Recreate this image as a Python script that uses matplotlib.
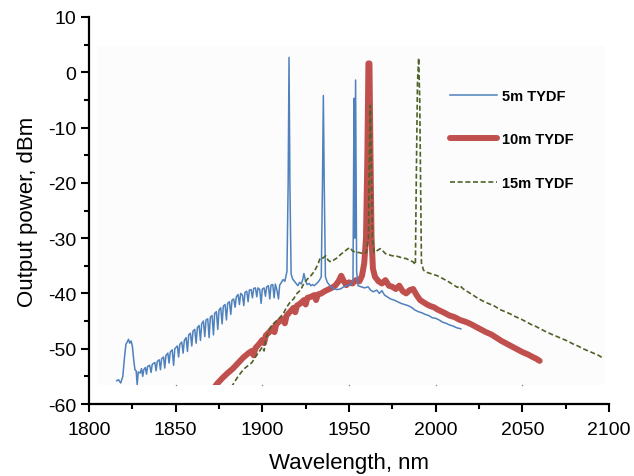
import matplotlib
matplotlib.use("Agg")
import matplotlib.pyplot as plt
from matplotlib.patches import Rectangle
from matplotlib.ticker import MultipleLocator

plt.rcParams['font.family'] = ['Liberation Sans', 'DejaVu Sans']
plt.rcParams['axes.unicode_minus'] = False

# ---- spectra: wavelength (nm) and output power (dBm) ----
wl_5m = [1816.0, 1817.0, 1818.3, 1819.5, 1820.5, 1821.3, 1822.0, 1822.8, 1823.5, 1824.3,
         1825.0, 1825.8, 1826.5, 1827.2, 1827.8, 1828.4, 1829.5, 1830.3, 1831.0, 1831.6,
         1832.5, 1833.2, 1833.8, 1835.0, 1835.8, 1836.5, 1838.0, 1838.7, 1839.4, 1840.5,
         1841.2, 1841.9, 1843.0, 1843.7, 1844.4, 1845.5, 1846.2, 1846.9, 1848.0, 1848.8,
         1849.5, 1851.0, 1851.7, 1852.4, 1853.5, 1854.3, 1855.0, 1856.0, 1856.8, 1857.5,
         1858.5, 1859.3, 1860.0, 1861.0, 1861.8, 1862.5, 1863.5, 1864.3, 1865.0, 1866.0,
         1866.8, 1867.5, 1868.5, 1869.3, 1870.0, 1871.0, 1871.8, 1872.5, 1873.5, 1874.3,
         1875.0, 1876.0, 1876.8, 1877.5, 1878.5, 1879.3, 1880.0, 1881.0, 1881.8, 1882.5,
         1883.5, 1884.3, 1885.0, 1886.0, 1886.8, 1887.5, 1888.5, 1889.3, 1890.0, 1891.0,
         1891.8, 1892.5, 1893.5, 1894.3, 1895.0, 1896.0, 1896.8, 1897.5, 1898.5, 1899.3,
         1900.0, 1901.0, 1901.8, 1902.5, 1903.5, 1904.3, 1905.0, 1906.0, 1906.8, 1907.5,
         1908.5, 1909.3, 1910.0, 1911.0, 1912.0, 1913.0, 1914.2, 1914.9, 1915.4, 1915.9,
         1916.6, 1917.5, 1918.5, 1919.5, 1920.5, 1921.5, 1922.5, 1923.3, 1924.0, 1924.8,
         1925.8, 1927.0, 1928.0, 1929.0, 1930.0, 1931.0, 1932.0, 1933.0, 1934.0, 1934.7,
         1935.2, 1935.7, 1936.4, 1937.5, 1939.0, 1941.0, 1943.0, 1945.0, 1947.0, 1949.0,
         1951.0, 1952.3, 1952.9, 1953.3, 1953.8, 1954.4, 1955.2, 1957.0, 1959.0, 1961.0,
         1962.5, 1964.0, 1966.0, 1967.5, 1969.0, 1970.5, 1972.0, 1974.0, 1976.0, 1978.0,
         1980.0, 1982.0, 1984.0, 1986.0, 1988.0, 1990.0, 1992.0, 1994.0, 1996.0, 1998.0,
         2000.0, 2002.0, 2004.0, 2006.0, 2008.0, 2010.0, 2012.0, 2014.5]
pw_5m = [-55.8, -55.6, -56.2, -55.0, -51.5, -49.2, -48.8, -48.3, -49.0, -48.6,
         -49.5, -52.0, -53.8, -54.0, -56.5, -54.2, -54.4, -53.6, -55.0, -53.8,
         -53.4, -54.6, -53.2, -53.0, -54.3, -52.8, -52.5, -54.0, -52.3, -52.0,
         -53.8, -51.8, -51.5, -53.5, -51.2, -50.8, -52.6, -50.6, -50.2, -53.0,
         -50.0, -49.5, -51.5, -49.2, -48.8, -50.8, -48.5, -48.0, -50.5, -47.5,
         -47.2, -49.5, -46.8, -46.5, -49.0, -46.2, -45.8, -48.5, -45.5, -45.0,
         -47.8, -44.8, -44.6, -48.0, -44.3, -44.0, -47.5, -43.6, -43.3, -46.5,
         -43.0, -42.6, -45.5, -42.3, -42.0, -44.8, -41.8, -41.5, -43.8, -41.2,
         -41.0, -42.5, -40.6, -40.2, -42.0, -40.0, -40.3, -42.2, -39.8, -39.6,
         -41.5, -39.4, -39.3, -40.8, -39.1, -39.0, -40.6, -39.0, -39.3, -41.8,
         -39.2, -39.0, -40.5, -38.8, -38.6, -41.0, -38.5, -38.4, -40.8, -38.3,
         -39.5, -41.0, -38.5, -38.0, -37.5, -37.8, -36.0, -20.0, 2.7, -20.0,
         -36.5, -37.4, -37.8, -38.2, -38.6, -38.0, -38.3, -37.5, -36.4, -37.6,
         -38.4, -38.2, -38.6, -38.4, -38.6, -38.3, -38.0, -37.6, -37.0, -20.0,
         -4.2, -20.0, -37.0, -38.0, -38.6, -39.1, -39.3, -39.2, -38.8, -38.6,
         -38.4, -37.5, -4.7, -30.0, -1.4, -36.0, -38.6, -38.8, -39.0, -38.8,
         -39.4, -39.7, -39.4, -40.0, -39.5, -40.3, -40.6, -41.0, -41.2, -41.5,
         -41.8, -42.0, -42.2, -42.5, -43.0, -43.3, -43.5, -43.8, -44.0, -44.4,
         -44.5, -44.8, -45.2, -45.4, -45.7, -45.9, -46.2, -46.4]

wl_10m = [1870.0, 1874.0, 1877.0, 1880.0, 1883.0, 1886.0, 1889.0, 1892.0, 1894.0, 1895.0,
          1896.0, 1898.0, 1900.0, 1901.0, 1902.0, 1904.0, 1906.0, 1907.0, 1908.0, 1910.0,
          1912.0, 1913.0, 1914.0, 1916.0, 1918.0, 1919.0, 1920.0, 1922.0, 1924.0, 1925.0,
          1926.0, 1928.0, 1930.0, 1931.0, 1932.0, 1934.0, 1936.0, 1938.0, 1940.0, 1942.0,
          1944.0, 1945.5, 1947.0, 1948.5, 1950.0, 1952.0, 1954.0, 1956.0, 1957.5, 1958.8,
          1959.8, 1960.6, 1961.2, 1961.8, 1962.4, 1963.0, 1963.8, 1965.0, 1967.0, 1969.0,
          1971.0, 1973.0, 1975.0, 1977.0, 1979.0, 1981.0, 1983.0, 1985.0, 1987.0, 1989.0,
          1991.0, 1993.0, 1995.0, 1997.0, 1999.0, 2001.0, 2003.0, 2005.0, 2008.0, 2011.0,
          2014.0, 2017.0, 2020.0, 2023.0, 2026.0, 2029.0, 2032.0, 2035.0, 2038.0, 2041.0,
          2044.0, 2047.0, 2050.0, 2053.0, 2056.0, 2058.0, 2060.0]
pw_10m = [-58.0, -56.3, -55.3, -54.4, -53.6, -52.6, -51.6, -50.8, -50.4, -51.2,
          -49.9, -49.2, -48.4, -49.0, -47.6, -47.0, -46.2, -47.0, -45.6, -45.0,
          -44.6, -45.4, -44.0, -43.3, -42.6, -43.4, -42.2, -41.8, -41.2, -42.0,
          -40.8, -40.6, -40.3, -41.2, -40.2, -40.0, -39.6, -39.3, -39.0, -38.6,
          -37.8, -36.8, -37.8, -38.5, -38.0, -38.2, -37.6, -37.8, -36.8, -34.5,
          -30.0, -15.0, 1.6, 1.6, -15.0, -30.0, -35.5, -37.0, -37.8, -38.2,
          -37.6, -38.6, -38.8, -39.2, -38.6, -39.6, -40.0, -39.4, -39.2, -40.3,
          -41.2, -41.6, -42.0, -42.3, -42.5, -42.9, -43.2, -43.5, -44.0, -44.3,
          -44.8, -45.1, -45.5, -46.0, -46.5, -47.0, -47.4, -48.0, -48.6, -49.1,
          -49.6, -50.1, -50.6, -51.0, -51.5, -51.8, -52.2]

wl_15m = [1882.0, 1884.0, 1886.0, 1888.0, 1890.0, 1892.0, 1894.0, 1896.0, 1898.0, 1900.0,
          1901.0, 1902.0, 1904.0, 1906.0, 1908.0, 1910.0, 1912.0, 1914.0, 1916.0, 1918.0,
          1920.0, 1922.0, 1924.0, 1926.0, 1928.0, 1930.0, 1932.0, 1933.5, 1935.0, 1936.5,
          1938.0, 1939.5, 1941.0, 1943.0, 1945.0, 1947.0, 1949.0, 1950.5, 1952.0, 1954.0,
          1956.0, 1958.0, 1960.0, 1961.2, 1961.8, 1962.3, 1962.8, 1963.5, 1964.5, 1966.0,
          1968.0, 1969.5, 1971.0, 1973.0, 1975.0, 1977.0, 1979.0, 1981.0, 1983.0, 1985.0,
          1987.0, 1988.3, 1988.8, 1989.5, 1990.2, 1990.8, 1991.3, 1991.8, 1993.0, 1995.0,
          1998.0, 2001.0, 2004.0, 2007.0, 2010.0, 2012.5, 2014.0, 2016.0, 2019.0, 2022.0,
          2025.0, 2028.0, 2031.0, 2034.0, 2037.0, 2040.0, 2043.0, 2046.0, 2049.0, 2052.0,
          2055.0, 2058.0, 2061.0, 2064.0, 2067.0, 2070.0, 2073.0, 2076.0, 2079.0, 2082.0,
          2085.0, 2088.0, 2091.0, 2094.0, 2096.0]
pw_15m = [-57.0, -56.0, -55.0, -54.2, -53.5, -53.0, -52.5, -51.5, -50.6, -49.7,
          -50.4, -48.2, -46.6, -45.6, -45.0, -44.4, -43.7, -42.5, -41.6, -41.0,
          -40.0, -39.4, -38.2, -37.4, -36.8, -36.0, -34.8, -33.5, -33.6, -33.2,
          -34.0, -34.3, -34.0, -33.6, -33.0, -32.5, -32.0, -31.7, -32.3, -32.6,
          -32.6, -32.8, -32.6, -30.0, -15.0, -6.0, -15.0, -30.0, -32.6, -32.3,
          -31.9, -32.3, -32.8, -33.0, -33.2, -33.2, -33.4, -33.6, -33.7, -34.0,
          -34.3, -34.8, -20.0, -2.0, 2.6, -5.0, -20.0, -34.5, -35.8, -36.2,
          -36.5, -36.8, -37.3, -37.8, -38.4, -38.9, -38.6, -39.2, -39.8, -40.4,
          -41.0, -41.5, -41.9, -42.3, -42.9, -43.3, -43.7, -44.2, -44.6, -45.1,
          -45.6, -46.0, -46.5, -47.0, -47.4, -47.8, -48.2, -48.6, -49.1, -49.5,
          -50.0, -50.4, -50.8, -51.2, -51.6]

series_labels = ['5m TYDF', '10m TYDF', '15m TYDF']
x_ticks = [1800, 1850, 1900, 1950, 2000, 2050, 2100]
y_ticks = [-60, -50, -40, -30, -20, -10, 0, 10]
panel_ticks = [1850, 1900, 1950, 2000, 2050]

# ---- figure ----
fig = plt.figure(figsize=(6.34, 4.77), dpi=100)
ax = fig.add_axes([89 / 634, 1 - 405 / 477, 520 / 634, 387 / 477])

# faint plotting panel; spectra are clipped to it
panel = Rectangle((1804.6, -56.6), 2097.5 - 1804.6, 4.8 + 56.6,
                  facecolor='#fcfcfc', edgecolor='none', zorder=0)
ax.add_patch(panel)
ax.scatter(panel_ticks, [-56.6] * len(panel_ticks), s=1.2, color='#8a8a8a',
           linewidths=0, zorder=1)

l5, = ax.plot(wl_5m, pw_5m, color='#4F81BD', lw=1.1, zorder=3, label=series_labels[0])
l10, = ax.plot(wl_10m, pw_10m, color='#C0504D', lw=4.3, zorder=2,
               solid_capstyle='round', solid_joinstyle='round', label=series_labels[1])
l15, = ax.plot(wl_15m, pw_15m, color='#4F6228', lw=1.2, zorder=4,
               dashes=(3, 1.6), label=series_labels[2])
for ln in (l5, l10, l15):
    ln.set_clip_path(panel)

ax.set_xlim(1800, 2100)
ax.set_ylim(-60, 10)
ax.set_xticks(x_ticks)
ax.set_yticks(y_ticks)
ax.xaxis.set_minor_locator(MultipleLocator(25))
ax.yaxis.set_minor_locator(MultipleLocator(5))

for side in ('top', 'right'):
    ax.spines[side].set_visible(False)
for side in ('left', 'bottom'):
    ax.spines[side].set_linewidth(1.6)

ax.tick_params(which='major', direction='out', length=6, width=1.5, labelsize=14)
ax.tick_params(which='minor', direction='out', length=3.5, width=1.5)
ax.tick_params(axis='x', which='major', pad=6)
ax.tick_params(axis='y', which='major', pad=3)

ax.set_xlabel('Wavelength, nm', fontsize=16, labelpad=10)
ax.set_ylabel('Output power, dBm', fontsize=16, labelpad=7)

leg = ax.legend(handles=[l5, l10, l15], loc='upper left',
                bbox_to_anchor=(450 / 634, 1 - 90 / 477), bbox_transform=fig.transFigure,
                frameon=False, borderpad=0, borderaxespad=0,
                handlelength=3.2, handletextpad=0.35, labelspacing=2.02,
                prop={'weight': 'bold', 'size': 10.5})

fig.savefig('out.png', dpi=100)
